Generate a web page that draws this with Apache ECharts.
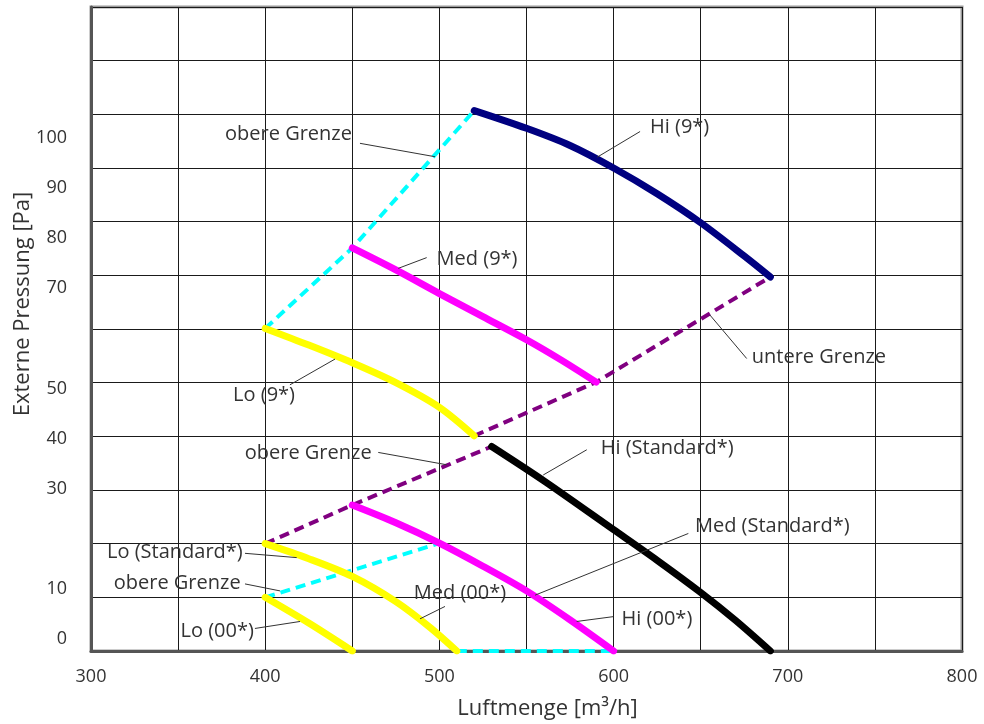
<!DOCTYPE html>
<html><head><meta charset="utf-8">
<script src="https://cdn.jsdelivr.net/npm/echarts@6/dist/echarts.min.js"></script>
<style>html,body{margin:0;padding:0;background:#fff}#c{width:984px;height:724px}</style>
</head><body><div id="c"></div>
<script>
// ---- tick labels ----
const xTickLabels = [300, 400, 500, 600, 700, 800];
const yTickLabels = [0, 10, 30, 40, 50, 70, 80, 90, 100];

// ---- curves [Luftmenge, Pressung] ----
const hi9   = [[520,100.7],[550,97.4],[575,94.2],[600,90.0],[625,85.2],[650,79.8],[675,73.6],[690,69.7]];
const med9  = [[450,75.1],[475,71.0],[500,66.6],[525,62.3],[550,58.0],[570,54.2],[590,50.1]];
const lo9   = [[400,60.1],[425,57.0],[450,53.7],[475,50.0],[500,45.4],[520,40.1]];
const hiStd = [[530,38.1],[560,31.7],[600,22.6],[625,16.9],[650,10.9],[670,5.7],[690,0]];
const medStd= [[450,27.2],[475,23.9],[500,20.1],[525,15.8],[550,11.2],[575,5.8],[600,0]];
const loStd = [[400,20.0],[425,17.2],[450,13.9],[475,9.2],[495,4.3],[510,0]];
const lo00  = [[400,10.0],[425,5.2],[450,0]];

// ---- limit lines ----
const obereGrenze9   = [[400,60.1],[450,75.1],[520,100.7]];
const untereGrenze9  = [[520,40.1],[590,50.1],[690,69.7]];
const grenzeStd      = [[400,20.0],[450,27.2],[530,38.1]];
const obereGrenze00  = [[400,10.0],[500,20.1]];
const untereGrenze00 = [[510,0],[600,0]];

// ---- annotations (data coordinates) ----
const annotations = [
  {text:'obere Grenze',    at:[449.8,96.3], align:'right',  from:[454.4,94.6], to:[497.5,92.1]},
  {text:'Hi (9*)',         at:[620.9,97.6], align:'left',   from:[615.2,96.8], to:[590.5,92.0]},
  {text:'Med (9*)',        at:[498.4,72.9], align:'left',   from:[492.7,73.3], to:[476.4,71.3]},
  {text:'Lo (9*)',         at:[417.1,47.6], align:'right',  from:[414.2,49.6], to:[440.1,54.4]},
  {text:'untere Grenze',   at:[679.3,54.8], align:'left',   from:[676.4,54.5], to:[655.3,62.6]},
  {text:'obere Grenze',    at:[461.1,36.9], align:'right',  from:[464.9,37.0], to:[504.2,34.7]},
  {text:'Hi (Standard*)',  at:[592.6,37.8], align:'left',   from:[584.6,37.5], to:[559.6,32.8]},
  {text:'Med (Standard*)', at:[646.7,23.3], align:'left',   from:[642.9,21.9], to:[554.9,10.4]},
  {text:'Hi (00*)',        at:[604.6,6.0],  align:'left',   from:[599.8,6.4],  to:[578.8,5.5]},
  {text:'Med (00*)',       at:[511.8,10.8], align:'center', from:[503.2,8.3],  to:[488.9,6.0]},
  {text:'Lo (Standard*)',  at:[387.1,18.3], align:'right',  from:[388.4,18.2], to:[418.1,17.4]},
  {text:'obere Grenze',    at:[385.9,12.6], align:'right',  from:[388.4,12.5], to:[408.5,11.2]},
  {text:'Lo (00*)',        at:[393.5,3.6],  align:'right',  from:[394.1,4.2],  to:[420.0,5.5]}
];

const FONT = '"Open Sans", "Noto Sans", sans-serif';
const TXT = '#333';

const solid = (name, data, color) => ({
  type:'line', name, data, smooth:0.3, symbol:'none', silent:true,
  lineStyle:{color, width:7, cap:'round', join:'round'}, z:5
});
const dashed = (name, data, color) => ({
  type:'line', name, data, symbol:'none', silent:true,
  lineStyle:{color, width:4, type:[10,6]}, z:4
});

const series = [
  dashed('obere Grenze 9', obereGrenze9, '#00ffff'),
  dashed('untere Grenze 9', untereGrenze9, '#800080'),
  dashed('Grenze Std', grenzeStd, '#800080'),
  dashed('obere Grenze 00', obereGrenze00, '#00ffff'),
  dashed('untere Grenze 00', untereGrenze00, '#00ffff'),
  solid('Hi (9*)', hi9, '#000080'),
  solid('Med (9*)', med9, '#ff00ff'),
  solid('Lo (9*)', lo9, '#ffff00'),
  solid('Hi (Standard*)', hiStd, '#000000'),
  solid('Med (Standard*)', medStd, '#ff00ff'),
  solid('Lo (Standard*)', loStd, '#ffff00'),
  solid('Lo (00*)', lo00, '#ffff00')
];
annotations.forEach(a => series.push({
  type:'line', data:[a.from, a.to], symbol:'none', silent:true,
  lineStyle:{color:'#333', width:1}, z:6
}));

const chart = echarts.init(document.getElementById('c'));
chart.setOption({
  animation:false,
  backgroundColor:'#fff',
  grid:{left:91, right:22, top:7, bottom:73, show:true, borderColor:'#9a9a9a', borderWidth:3,
        containLabel:false, outerBoundsMode:'none'},
  xAxis:{
    type:'value', min:300, max:800, interval:50,
    axisLine:{show:true, onZero:false, lineStyle:{color:'#555', width:3}},
    axisTick:{show:false},
    splitLine:{show:true, lineStyle:{color:'#1a1a1a', width:1}},
    axisLabel:{customValues:xTickLabels, fontSize:18, color:TXT, fontFamily:FONT, margin:17},
    name:'Luftmenge [m³/h]', nameLocation:'middle', nameGap:47,
    nameTextStyle:{fontSize:22, color:TXT, fontFamily:FONT, padding:[0,0,0,42]}
  },
  yAxis:[{
    type:'value', min:0, max:120, interval:10,
    axisLine:{show:true, onZero:false, lineStyle:{color:'#555', width:3}},
    axisTick:{show:false},
    splitLine:{show:true, lineStyle:{color:'#1a1a1a', width:1}},
    axisLabel:{show:false}
  },{
    type:'value', position:'left', min:-2.4, max:126.15,
    axisLine:{show:false}, axisTick:{show:false}, splitLine:{show:false},
    axisLabel:{customValues:yTickLabels, fontSize:18, color:TXT, fontFamily:FONT, margin:24},
    name:'Externe Pressung [Pa]', nameLocation:'middle', nameGap:57, nameRotate:90,
    nameMoveOverlap:false,
    nameTextStyle:{fontSize:22, color:TXT, fontFamily:FONT, padding:[0,0,0,50]}
  }],
  series
});

const graphics = annotations.map(a => {
  const p = chart.convertToPixel({seriesIndex:0}, a.at);
  return {type:'text', x:p[0], y:p[1], z:100, silent:true,
    style:{text:a.text, fill:TXT, font:'20px ' + FONT, align:a.align, verticalAlign:'middle'}};
});
chart.setOption({graphic:graphics});
</script>
</body></html>
